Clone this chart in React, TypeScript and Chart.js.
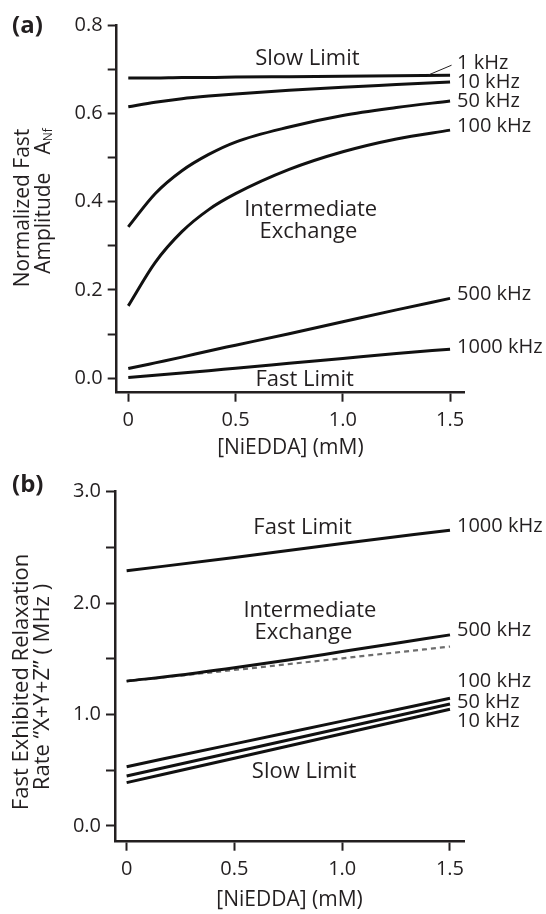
import React, { useEffect, useRef } from 'react';
import { Chart, registerables } from 'chart.js';
Chart.register(...registerables);

// ---------- DATA ----------
// Panel (a): normalized fast amplitude vs [NiEDDA]
const xA = [0, 0.125, 0.25, 0.375, 0.5, 0.75, 1.0, 1.25, 1.5];
const a1k = [0.680, 0.680, 0.681, 0.681, 0.682, 0.683, 0.684, 0.685, 0.686];
const a10k = [0.615, 0.625, 0.633, 0.639, 0.644, 0.652, 0.659, 0.665, 0.671];
const a50k = [0.343, 0.418, 0.470, 0.507, 0.535, 0.569, 0.595, 0.613, 0.628];
const a100k = [0.164, 0.262, 0.332, 0.382, 0.418, 0.473, 0.513, 0.542, 0.562];
const a500k = [0.022, 0.035, 0.048, 0.062, 0.075, 0.101, 0.128, 0.155, 0.181];
const a1000k = [0.002, 0.007, 0.012, 0.017, 0.023, 0.034, 0.045, 0.056, 0.066];

// Panel (b): fast exhibited relaxation rate vs [NiEDDA]
const xB = [0, 0.5, 1.0, 1.5];
const xB500 = [0, 0.25, 0.5, 0.75, 1.0, 1.25, 1.5];
const b1000k = [2.29, 2.41, 2.535, 2.655];
const b500k = [1.30, 1.355, 1.42, 1.49, 1.565, 1.64, 1.715];
const bDashed = [1.30, 1.40, 1.505, 1.61];
const b100k = [0.532, 0.737, 0.941, 1.146];
const b50k = [0.449, 0.664, 0.880, 1.095];
const b10k = [0.389, 0.608, 0.828, 1.047];

const xTicks = [0, 0.5, 1.0, 1.5];
const yTicksA = [0, 0.1, 0.2, 0.3, 0.4, 0.5, 0.6, 0.7, 0.8];
const yTicksB = [0, 0.5, 1.0, 1.5, 2.0, 2.5, 3.0];

const labelsA = ['1 kHz', '10 kHz', '50 kHz', '100 kHz', '500 kHz', '1000 kHz'];
const labelsB = ['1000 kHz', '500 kHz', '100 kHz', '50 kHz', '10 kHz'];

// ---------- STYLE ----------
const FONT = '"Open Sans", sans-serif';
const INK = '#231f20';
const LINE = '#111111';

const pts = (xs: number[], ys: number[]) => xs.map((x, i) => ({ x, y: ys[i] }));

type Ann = { text: string; x: number; y: number };
type Layout = {
  panel: string;
  panelY: number;
  titleLines: { x: number; y: number }[];
  title1: string;
  title2: string;
  titleSize: number;
  sub?: string;
  xTitleY: number;
  anns: Ann[];
  rightLabels: string[];
  rightY: number[];
  leader?: [number, number, number, number];
};

function overlay(L: Layout) {
  return {
    id: 'overlay',
    afterDraw(chart: any) {
      const { ctx } = chart;
      const xs = chart.scales.x;
      const ys = chart.scales.y;
      ctx.save();
      ctx.fillStyle = INK;
      ctx.textBaseline = 'middle';
      // panel label
      ctx.font = `bold 24px ${FONT}`;
      ctx.textAlign = 'left';
      ctx.fillText(L.panel, 12, L.panelY);
      // annotations
      ctx.font = `22px ${FONT}`;
      ctx.textAlign = 'center';
      for (const a of L.anns) {
        ctx.fillText(a.text, xs.getPixelForValue(a.x), ys.getPixelForValue(a.y));
      }
      // right labels
      ctx.font = `20px ${FONT}`;
      ctx.textAlign = 'left';
      const rx = xs.getPixelForValue(1.5) + 7;
      L.rightLabels.forEach((t, i) => ctx.fillText(t, rx, ys.getPixelForValue(L.rightY[i])));
      if (L.leader) {
        const [x1, y1, x2, y2] = L.leader;
        ctx.strokeStyle = INK;
        ctx.lineWidth = 1;
        ctx.beginPath();
        ctx.moveTo(xs.getPixelForValue(x1), ys.getPixelForValue(y1));
        ctx.lineTo(xs.getPixelForValue(x2), ys.getPixelForValue(y2));
        ctx.stroke();
      }
      // x title
      ctx.font = `21px ${FONT}`;
      ctx.textAlign = 'center';
      ctx.fillText('[NiEDDA] (mM)', (chart.chartArea.left + chart.chartArea.right) / 2, L.xTitleY);
      // y title (rotated)
      const tf = `${L.titleSize}px ${FONT}`;
      const [p1, p2] = L.titleLines;
      ctx.font = tf;
      ctx.save();
      ctx.translate(p1.x, p1.y);
      ctx.rotate(-Math.PI / 2);
      ctx.textAlign = 'center';
      ctx.fillText(L.title1, 0, 0);
      ctx.restore();
      ctx.save();
      ctx.translate(p2.x, p2.y);
      ctx.rotate(-Math.PI / 2);
      if (L.sub) {
        const gap = 18;
        ctx.font = tf;
        const w1 = ctx.measureText(L.title2).width;
        const wA = ctx.measureText('A').width;
        ctx.font = `12px ${FONT}`;
        const wS = ctx.measureText(L.sub).width;
        const total = w1 + gap + wA + wS;
        let cx = -total / 2;
        ctx.textAlign = 'left';
        ctx.font = tf;
        ctx.fillText(L.title2, cx, 0);
        cx += w1 + gap;
        ctx.fillText('A', cx, 0);
        cx += wA;
        ctx.font = `12px ${FONT}`;
        ctx.fillText(L.sub, cx, 5);
      } else {
        ctx.textAlign = 'center';
        ctx.fillText(L.title2, 0, 0);
      }
      ctx.restore();
      ctx.restore();
    },
  };
}

function makeConfig(
  datasets: any[],
  yMin: number,
  yMax: number,
  yTicks: number[],
  yLabel: (v: number) => string,
  topPad: number,
  bottomH: number,
  yAxisW: number,
  L: Layout
) {
  const tickFont = { family: FONT, size: 20 };
  return {
    type: 'line',
    data: { datasets },
    options: {
      animation: false,
      responsive: false,
      devicePixelRatio: 1,
      layout: { padding: { top: topPad, right: 82, left: 0, bottom: 0 } },
      plugins: { legend: { display: false }, tooltip: { enabled: false } },
      elements: { point: { radius: 0 } },
      scales: {
        x: {
          type: 'linear',
          min: -0.054,
          max: 1.565,
          afterBuildTicks: (s: any) => { s.ticks = xTicks.map((v) => ({ value: v })); },
          afterFit: (s: any) => { s.height = bottomH; },
          ticks: {
            autoSkip: false,
            maxRotation: 0,
            padding: 7,
            color: INK,
            font: tickFont,
            callback: (v: number) => (v === 0 ? '0' : v.toFixed(1)),
          },
          grid: { drawOnChartArea: false, drawTicks: true, tickLength: 9, tickWidth: 2, tickColor: INK },
          border: { display: true, color: INK, width: 2.5 },
        },
        y: {
          type: 'linear',
          min: yMin,
          max: yMax,
          afterBuildTicks: (s: any) => { s.ticks = yTicks.map((v) => ({ value: v })); },
          afterFit: (s: any) => { s.width = yAxisW; },
          ticks: {
            autoSkip: false,
            padding: 5,
            color: INK,
            font: tickFont,
            callback: (v: number) => yLabel(v),
          },
          grid: { drawOnChartArea: false, drawTicks: true, tickLength: 9, tickWidth: 2, tickColor: INK },
          border: { display: true, color: INK, width: 2.5 },
        },
      },
    },
    plugins: [overlay(L)],
  } as any;
}

const solid = (data: any[]) => ({
  data,
  borderColor: LINE,
  borderWidth: 3,
  fill: false,
  cubicInterpolationMode: 'monotone',
  pointRadius: 0,
  clip: false,
});

const layoutA: Layout = {
  panel: '(a)',
  panelY: 26,
  titleLines: [{ x: 23, y: 208 }, { x: 44, y: 201 }],
  title1: 'Normalized Fast',
  title2: 'Amplitude',
  titleSize: 21,
  sub: 'Nf',
  xTitleY: 448,
  anns: [
    { text: 'Slow Limit', x: 0.835, y: 0.723 },
    { text: 'Intermediate', x: 0.85, y: 0.381 },
    { text: 'Exchange', x: 0.84, y: 0.333 },
    { text: 'Fast Limit', x: 0.822, y: -0.004 },
  ],
  rightLabels: labelsA,
  rightY: [0.713, 0.670, 0.627, 0.571, 0.191, 0.071],
  leader: [1.507, 0.709, 1.40, 0.687],
};

const layoutB: Layout = {
  panel: '(b)',
  panelY: 25,
  titleLines: [{ x: 22, y: 222 }, { x: 43, y: 227 }],
  title1: 'Fast Exhibited Relaxation',
  title2: 'Rate \u201CX+Y+Z\u201D ( MHz )',
  titleSize: 22,
  xTitleY: 440,
  anns: [
    { text: 'Fast Limit', x: 0.816, y: 2.68 },
    { text: 'Intermediate', x: 0.85, y: 1.93 },
    { text: 'Exchange', x: 0.82, y: 1.733 },
    { text: 'Slow Limit', x: 0.823, y: 0.485 },
  ],
  rightLabels: labelsB,
  rightY: [2.687, 1.753, 1.295, 1.110, 0.936],
};

export default function App() {
  const refA = useRef<HTMLCanvasElement>(null);
  const refB = useRef<HTMLCanvasElement>(null);

  useEffect(() => {
    const dsA = [
      solid(pts(xA, a1k)),
      solid(pts(xA, a10k)),
      solid(pts(xA, a50k)),
      solid(pts(xA, a100k)),
      solid(pts(xA, a500k)),
      solid(pts(xA, a1000k)),
    ];
    const dsB = [
      solid(pts(xB, b1000k)),
      solid(pts(xB500, b500k)),
      { ...solid(pts(xB, bDashed)), borderColor: '#6d6d6d', borderWidth: 2.2, borderDash: [5, 4] },
      solid(pts(xB, b100k)),
      solid(pts(xB, b50k)),
      solid(pts(xB, b10k)),
    ];
    const chartA = new Chart(
      refA.current as HTMLCanvasElement,
      makeConfig(dsA, -0.0326, 0.8, yTicksA, (v) => (Math.round(v * 10) % 2 === 0 ? v.toFixed(1) : ''), 25, 67.3, 116.7, layoutA)
    );
    const chartB = new Chart(
      refB.current as HTMLCanvasElement,
      makeConfig(dsB, -0.141, 3.0, yTicksB, (v) => (Math.round(v * 10) % 10 === 0 ? v.toFixed(1) : ''), 31.7, 72.3, 115, layoutB)
    );
    return () => {
      chartA.destroy();
      chartB.destroy();
    };
  }, []);

  return (
    <div style={{ position: 'absolute', left: 0, top: 0, width: 546, height: 914, background: '#fff' }}>
      <canvas ref={refA} width={546} height={460} style={{ display: 'block', width: 546, height: 460 }} />
      <canvas ref={refB} width={546} height={454} style={{ display: 'block', width: 546, height: 454 }} />
    </div>
  );
}
